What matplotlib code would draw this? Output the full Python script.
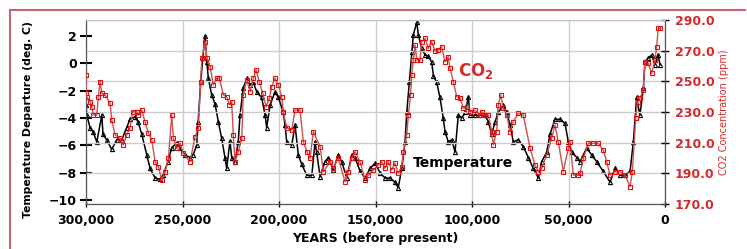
import numpy as np
import matplotlib
matplotlib.use("Agg")
import matplotlib.pyplot as plt
from matplotlib.lines import Line2D
from matplotlib.ticker import FuncFormatter

# ── data (years before present, kyr) ────────────────────────────────────────
temp_kyr = [300.0, 299.6, 297.9, 296.4, 294.4, 291.8, 291.2, 289.3, 286.7, 284.1,
            281.5, 278.9, 277.2, 274.6, 273.0, 271.1, 268.5, 266.8, 264.2, 261.6,
            260.1, 257.5, 255.6, 253.0, 251.3, 248.7, 246.1, 244.5, 242.6, 241.9,
            240.6, 239.5, 238.3, 237.4, 236.6, 234.9, 233.1, 231.4, 229.7, 228.0,
            227.1, 225.4, 224.5, 222.8, 221.1, 220.2, 218.5, 216.7, 215.0, 213.3,
            211.5, 209.0, 207.2, 206.4, 204.6, 202.1, 200.3, 197.8, 196.9, 196.0,
            193.4, 191.7, 190.0, 188.2, 185.6, 183.0, 181.3, 180.5, 178.7, 176.2,
            174.4, 171.9, 169.3, 167.5, 164.9, 162.3, 160.6, 158.0, 155.4, 152.8,
            150.2, 147.7, 145.1, 142.5, 139.9, 138.2, 136.4, 134.7, 133.8, 132.5,
            131.2, 130.4, 128.6, 127.8, 126.1, 124.3, 122.6, 120.9, 120.0, 118.3,
            116.6, 114.9, 114.0, 112.3, 110.5, 108.8, 107.1, 105.3, 103.6, 101.9,
            101.0, 98.4, 95.8, 93.3, 91.5, 89.8, 88.1, 86.4, 83.8, 82.0,
            80.3, 78.6, 76.0, 73.4, 70.8, 68.2, 65.6, 63.9, 61.3, 59.6,
            57.0, 54.4, 51.8, 50.1, 48.3, 45.7, 44.0, 40.6, 38.0, 35.4,
            32.0, 28.5, 25.9, 23.3, 20.7, 18.1, 16.4, 14.7, 13.0, 11.2,
            10.4, 8.7, 6.9, 5.2, 3.5, 2.6]
temp_deg = [-3.05, -3.8, -4.7, -5.0, -5.75, -3.8, -5.2, -5.6, -6.3, -5.6,
            -5.6, -4.7, -4.1, -3.9, -4.3, -5.2, -6.7, -7.7, -8.4, -8.5,
            -8.2, -7.2, -6.2, -5.8, -6.2, -6.7, -6.9, -6.7, -6.0, -4.3,
            -1.4, 0.4, 2.0, 0.1, -1.1, -2.3, -3.0, -4.3, -5.5, -6.9,
            -7.7, -5.7, -6.9, -7.2, -5.75, -3.8, -1.8, -1.1, -1.6, -1.4,
            -2.1, -2.5, -3.8, -4.7, -3.05, -2.1, -2.5, -3.6, -4.5, -5.75,
            -6.0, -4.5, -6.7, -7.4, -8.2, -8.2, -5.75, -6.5, -8.3, -7.2,
            -6.9, -7.8, -6.7, -7.2, -8.4, -6.7, -6.9, -7.9, -8.4, -7.7,
            -7.3, -8.0, -8.4, -8.4, -8.7, -9.1, -7.7, -5.75, -3.6, -1.4,
            0.8, 2.1, 3.0, 2.1, 1.1, 0.6, 0.5, 0.1, -0.9, -1.4,
            -2.5, -4.0, -5.0, -5.75, -5.6, -6.5, -3.8, -4.0, -3.6, -2.5,
            -3.8, -3.8, -3.8, -3.8, -4.3, -5.2, -4.3, -3.6, -3.05, -3.6,
            -4.5, -5.75, -5.6, -6.1, -6.9, -7.7, -8.4, -7.2, -6.5, -5.2,
            -4.1, -4.1, -4.4, -5.75, -6.5, -6.9, -7.2, -6.2, -6.7, -7.2,
            -7.9, -8.7, -7.7, -8.2, -8.2, -7.9, -5.75, -2.5, -3.8, -1.8,
            0.1, 0.4, 0.6, -0.1, 0.6, -0.1]

co2_kyr = [300.0, 299.8, 299.6, 297.9, 297.0, 296.2, 294.4, 293.6, 292.7, 291.8,
           290.1, 287.5, 286.7, 284.9, 282.3, 280.7, 278.9, 277.2, 275.8, 273.7,
           272.9, 271.1, 269.4, 267.7, 265.9, 264.2, 262.5, 260.8, 259.0, 257.3,
           255.6, 254.7, 253.0, 251.3, 249.6, 246.1, 243.5, 241.8, 240.6, 240.0,
           238.3, 237.4, 235.7, 234.0, 232.3, 230.9, 228.8, 227.1, 225.7, 224.5,
           223.7, 222.8, 221.1, 219.3, 218.5, 216.7, 215.0, 213.3, 211.9, 210.2,
           208.4, 206.7, 205.0, 203.8, 202.1, 200.3, 198.6, 197.8, 196.0, 193.4,
           191.7, 189.1, 187.4, 185.6, 183.9, 182.2, 178.7, 177.0, 173.5, 171.9,
           169.3, 165.8, 164.1, 162.3, 160.6, 158.0, 155.4, 153.7, 151.1, 148.5,
           146.8, 145.1, 143.4, 141.6, 139.9, 138.2, 136.4, 135.6, 133.8, 133.0,
           131.8, 131.2, 130.4, 129.5, 128.6, 126.9, 126.1, 124.3, 122.6, 120.9,
           119.2, 117.5, 115.7, 114.0, 112.3, 111.4, 109.7, 107.9, 106.2, 104.5,
           102.7, 101.0, 98.4, 95.8, 95.0, 93.3, 91.5, 89.8, 89.0, 87.2,
           86.4, 85.1, 83.8, 82.0, 80.3, 78.6, 76.0, 73.4, 69.9, 67.4,
           65.6, 63.9, 61.3, 58.7, 57.0, 55.3, 52.7, 50.1, 49.2, 47.5,
           44.9, 44.0, 42.3, 39.7, 37.1, 34.6, 32.0, 30.2, 28.5, 25.9,
           23.3, 20.7, 18.1, 16.9, 15.2, 14.1, 13.0, 11.2, 10.4, 8.7,
           6.9, 5.2, 4.3, 3.5, 2.6]
co2_ppm = [254.1, 242.2, 240.0, 236.7, 233.5, 228.0, 228.0, 240.0, 249.8, 242.2,
           241.0, 235.9, 224.8, 215.0, 212.9, 208.5, 215.0, 219.6, 230.2, 230.2,
           228.0, 231.3, 223.7, 216.1, 211.8, 197.6, 194.4, 185.7, 191.1, 199.8,
           228.0, 212.9, 206.3, 209.6, 203.1, 197.6, 213.9, 219.4, 249.8, 265.0,
           275.9, 265.0, 259.6, 247.6, 252.0, 252.0, 241.1, 240.0, 234.6, 236.7,
           215.0, 197.6, 204.1, 212.9, 241.1, 250.9, 243.3, 252.0, 257.4, 249.8,
           242.2, 233.5, 239.0, 246.5, 252.0, 247.6, 240.0, 230.2, 219.4, 218.3,
           231.3, 231.3, 210.7, 204.1, 199.8, 217.2, 207.4, 191.1, 197.6, 193.3,
           199.8, 184.6, 191.1, 199.8, 204.1, 197.6, 185.7, 188.9, 192.2, 195.5,
           197.6, 193.3, 197.6, 192.2, 196.6, 190.0, 194.4, 204.1, 215.0, 228.0,
           241.1, 254.1, 263.9, 273.7, 263.9, 263.9, 275.9, 278.0, 271.5, 275.9,
           270.0, 270.4, 272.6, 262.8, 266.1, 258.5, 249.8, 240.0, 239.0, 232.4,
           233.5, 230.2, 231.0, 228.0, 230.2, 228.0, 228.0, 217.2, 208.5, 217.2,
           234.6, 241.1, 232.4, 228.0, 217.2, 223.7, 229.1, 228.0, 206.3, 195.5,
           191.1, 193.3, 202.0, 212.9, 221.5, 210.7, 191.1, 206.3, 210.7, 188.9,
           188.9, 190.0, 199.8, 209.6, 209.6, 209.6, 205.2, 197.6, 188.9, 191.1,
           191.1, 188.9, 181.3, 191.1, 225.9, 236.7, 239.0, 244.4, 262.8, 261.8,
           255.2, 263.9, 272.6, 284.6, 284.6]

temp_ticks = [2, 0, -2, -4, -6, -8, -10]
co2_ticks = [170, 190, 210, 230, 250, 270, 290]
year_ticks = [300000, 250000, 200000, 150000, 100000, 50000, 0]

temp_years = np.array(temp_kyr) * 1000
co2_years = np.array(co2_kyr) * 1000

RED = "#d42a2a"
plt.rcParams["font.family"] = "DejaVu Sans"
plt.rcParams["font.weight"] = "bold"

fig = plt.figure(figsize=(7.47, 2.49), dpi=100)
ax = fig.add_axes([86 / 747, 1 - 204 / 249, (665 - 86) / 747, (204 - 20) / 249])
ax2 = ax.twinx()

ax.plot(temp_years, temp_deg, color="black", lw=1.1, marker="^", ms=3.0,
        mfc="none", mec="black", mew=0.8, zorder=3)
ax2.plot(co2_years, co2_ppm, color="#d05050", lw=1.0, marker="s", ms=2.6,
         mfc="none", mec="#e01010", mew=0.8, zorder=3)

ax.set_xlim(300000, 0)
ax.set_ylim(-10.3, 3.17)
ax2.set_ylim(170, 290)

ax.set_xticks(year_ticks)
ax.xaxis.set_major_formatter(FuncFormatter(lambda v, p: f"{int(v):,}"))
ax.set_yticks(temp_ticks)
ax2.set_yticks(co2_ticks)
ax2.yaxis.set_major_formatter(FuncFormatter(lambda v, p: f"{v:.1f}"))

ax.grid(axis="x", color="#cccccc", lw=1.0)
ax2.grid(axis="y", color="#cccccc", lw=1.0)
ax.set_axisbelow(True)
ax2.set_axisbelow(True)

ax.tick_params(axis="y", direction="inout", length=9, width=1.5, labelsize=9, pad=2)
ax.tick_params(axis="x", direction="inout", length=5, width=1.0, labelsize=9, pad=5)
ax2.tick_params(axis="y", direction="inout", length=6, width=1.0, labelsize=9,
                labelcolor=RED, pad=4)

for a in (ax, ax2):
    a.spines["top"].set_color("#c0c0c0")
    a.spines["left"].set_color("#555555")
    a.spines["bottom"].set_color("#555555")
    a.spines["right"].set_color("#555555")

ax.set_ylabel("Temperature Departure (deg. C)", fontsize=7.8, fontweight="bold")
ax.yaxis.set_label_coords(-0.0915, 0.46)
ax.set_xlabel("YEARS (before present)", fontsize=9, fontweight="bold", labelpad=3)
ax2.set_ylabel("CO2 Concentration (ppm)", fontsize=7, fontweight="normal",
               color=RED, labelpad=3)

ax2.text(107000, 257, "CO$_2$", color=RED, fontsize=12, fontweight="bold",
         va="center", ha="left")
ax.text(130500, -7.3, "Temperature", color="black", fontsize=10,
        fontweight="bold", va="center", ha="left")

# reddish frame at top and left of the image
fig.add_artist(Line2D([10 / 747, 745 / 747], [1 - 10 / 249] * 2,
                      transform=fig.transFigure, color="#c8646e", lw=1.5))
fig.add_artist(Line2D([10 / 747] * 2, [0, 1 - 10 / 249],
                      transform=fig.transFigure, color="#c8646e", lw=1.5))

fig.savefig("out.png", dpi=100)
